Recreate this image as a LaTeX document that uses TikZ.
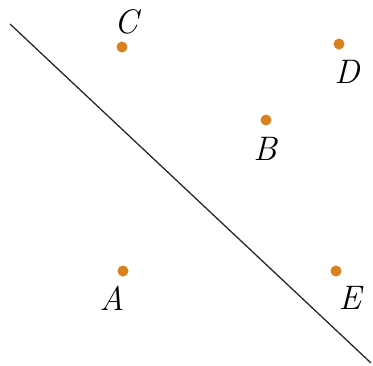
\documentclass[tikz,border=0pt]{standalone}
\usepackage{fontspec}
\usepackage{tikz}
\usetikzlibrary{positioning}
\definecolor{dotorange}{RGB}{217,128,31}
\definecolor{linegray}{RGB}{40,40,40}
\begin{document}
\begin{tikzpicture}[
  x=1pt, y=-1pt,
  pt/.style={circle, fill=dotorange, inner sep=0pt, minimum size=11pt},
  lab/.style={inner sep=0pt, font=\fontsize{34}{34}\selectfont\itshape},
  cut/.style={line width=1.3pt, color=linegray}
]
\useasboundingbox (0,0) rectangle (373,365);
% points
\node[pt] (C) at (122,47) {};
\node[pt] (D) at (339,44) {};
\node[pt] (B) at (266,120) {};
\node[pt] (A) at (123,271) {};
\node[pt] (E) at (336,271) {};
% labels
\node[lab] (labC) at (126,22) {C};
\node[lab] (labD) at (347,72) {D};
\node[lab] (labB) at (265,149) {B};
\node[lab] (labA) at (112,298) {A};
\node[lab] (labE) at (350,298) {E};
% dividing line
\coordinate (start) at (10,24);
\coordinate (end) at (371,363);
\draw[cut] (start) -- (end);
\end{tikzpicture}
\end{document}
